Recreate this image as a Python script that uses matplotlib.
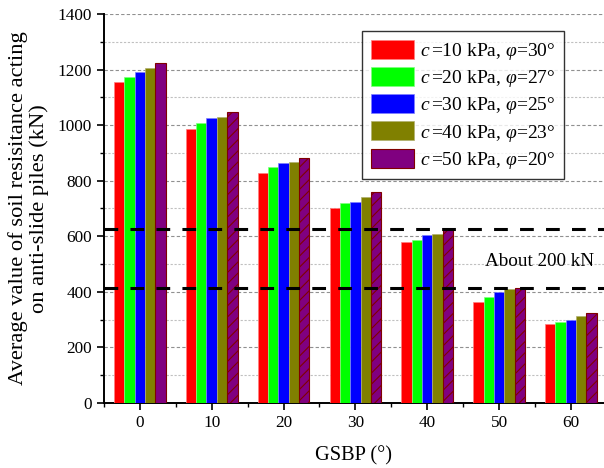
import numpy as np
import matplotlib.pyplot as plt
from matplotlib.ticker import MultipleLocator

plt.rcParams['font.family'] = ['Liberation Serif', 'DejaVu Serif']
plt.rcParams['mathtext.fontset'] = 'custom'
plt.rcParams['mathtext.rm'] = 'Liberation Serif'
plt.rcParams['mathtext.it'] = 'Liberation Serif:italic'
plt.rcParams['hatch.linewidth'] = 0.8

# Data
gsbp = [0, 10, 20, 30, 40, 50, 60]
c10_phi30 = [1155, 986, 827, 700, 581, 365, 283]
c20_phi27 = [1172, 1006, 849, 719, 586, 381, 292]
c30_phi25 = [1191, 1025, 864, 725, 603, 398, 298]
c40_phi23 = [1204, 1029, 866, 740, 609, 410, 313]
c50_phi20 = [1223, 1047, 881, 758, 626, 414, 322]
series = [c10_phi30, c20_phi27, c30_phi25, c40_phi23, c50_phi20]
labels = [r'$c\,$=10 kPa, $\varphi$=30°', r'$c\,$=20 kPa, $\varphi$=27°',
          r'$c\,$=30 kPa, $\varphi$=25°', r'$c\,$=40 kPa, $\varphi$=23°',
          r'$c\,$=50 kPa, $\varphi$=20°']
colors = ['#ff0000', '#00ff00', '#0000ff', '#808000', '#800080']
edges = ['#ff8080', '#80ff80', '#8080ff', '#b0b070', '#800000']
ref_lines = [625, 412]

fig = plt.figure(figsize=(6.04, 4.68), dpi=100)
ax = fig.add_axes([0.172, 0.139, 0.828, 0.831])

x = np.array(gsbp, dtype=float)
w = 1.44
for i, (vals, col, ec, lab) in enumerate(zip(series, colors, edges, labels)):
    pos = x + (i - 2) * w
    if i == 4:
        # legend patch and first bar without hatch, the rest hatched
        ax.bar(pos[:1], vals[:1], w, color=col, edgecolor=ec, linewidth=0.8, label=lab, zorder=3)
        ax.bar(pos[1:], vals[1:], w, color=col, edgecolor=ec, linewidth=0.8, hatch='///', zorder=3)
    else:
        ax.bar(pos, vals, w, color=col, edgecolor=ec, linewidth=0.5, label=lab, zorder=3)

for v in ref_lines:
    ax.axhline(v, color='black', lw=2.2, linestyle=(0, (4.5, 4)), zorder=4)
ax.text(63.2, 510, 'About 200 kN', fontsize=13.8, ha='right', va='center', zorder=5)

ax.set_xlim(-5, 64.6)
ax.set_ylim(0, 1400)
ax.xaxis.set_major_locator(MultipleLocator(10))
ax.xaxis.set_minor_locator(MultipleLocator(5))
ax.yaxis.set_major_locator(MultipleLocator(200))
ax.yaxis.set_minor_locator(MultipleLocator(100))
ax.grid(True, which='major', axis='y', color='#909090', linestyle=(0, (3, 2)), lw=0.8, zorder=0)
ax.grid(True, which='minor', axis='y', color='#c0c0c0', linestyle=(0, (2, 1.5)), lw=0.8, zorder=0)
ax.tick_params(which='major', direction='out', length=5, width=1.2, labelsize=12.4)
ax.tick_params(which='minor', direction='out', length=3, width=1.0)

for s in ['top', 'right']:
    ax.spines[s].set_visible(False)
for s in ['left', 'bottom']:
    ax.spines[s].set_linewidth(1.4)

ax.set_xlabel('GSBP (°)', fontsize=14.7, labelpad=11)
ax.set_ylabel('Average value of soil resisitance acting\non anti-slide piles (kN)',
              fontsize=16.2, labelpad=6, linespacing=1.1)

leg = ax.legend(loc='upper right', bbox_to_anchor=(0.92, 0.956), borderaxespad=0,
                fontsize=14, frameon=True, fancybox=False, edgecolor='black', shadow=False,
                handlelength=2.2, handleheight=1.13, handletextpad=0.3,
                labelspacing=0.26, borderpad=0.45)
leg.get_frame().set_linewidth(1.0)
leg.set_zorder(6)

fig.savefig('out.png', dpi=100)
